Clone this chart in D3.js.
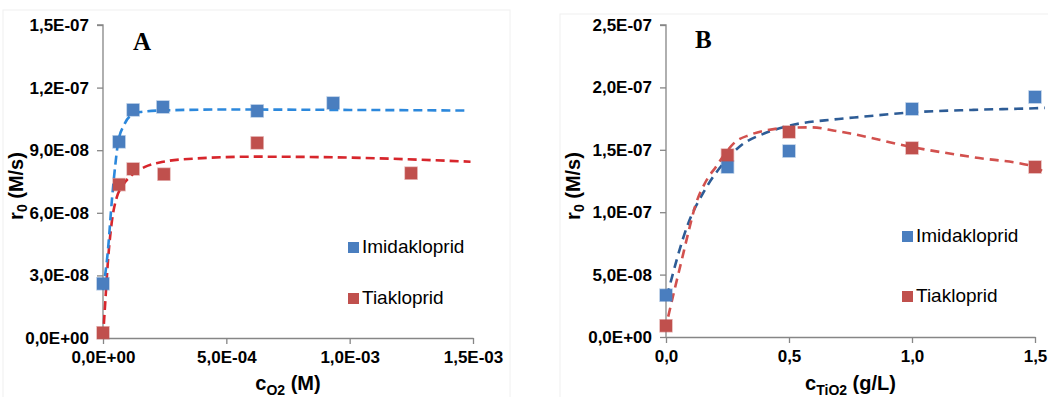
<!DOCTYPE html>
<html lang="en">
<head>
<meta charset="UTF-8">
<title>r0 vs cO2 / cTiO2</title>
<script src="https://d3js.org/d3.v7.min.js"></script>
<style>
  body { margin: 0; background: #fff; }
  svg { display: block; font-family: "Liberation Sans", Arial, sans-serif; }
  .axis-title { font-size: 20px; font-weight: bold; fill: #000; }
  .legend text { font-size: 19px; fill: #000; }
  .panel-tag { font-family: "Liberation Serif", "Times New Roman", serif; font-size: 25px; font-weight: bold; }
</style>
</head>
<body>
<script>
// ---- panel A : r0 vs c(O2) ----
const aYTicks = [0, 3e-8, 6e-8, 9e-8, 1.2e-7, 1.5e-7];
const aYLabels = ["0,0E+00", "3,0E-08", "6,0E-08", "9,0E-08", "1,2E-07", "1,5E-07"];
const aXTicks = [0, 5e-4, 1e-3, 1.5e-3];
const aXLabels = ["0,0E+00", "5,0E-04", "1,0E-03", "1,5E-03"];

const aImiX = [0, 6.5e-5, 1.22e-4, 2.43e-4, 6.25e-4, 9.33e-4];
const aImiY = [2.6e-8, 9.4e-8, 1.093e-7, 1.107e-7, 1.088e-7, 1.126e-7];
const aTiaX = [0, 6.5e-5, 1.22e-4, 2.47e-4, 6.25e-4, 1.249e-3];
const aTiaY = [2.5e-9, 7.35e-8, 8.1e-8, 7.85e-8, 9.35e-8, 7.9e-8];

// fitted curves
const aImiFitX = [0, 2.0e-5, 3.6e-5, 4.9e-5, 6.1e-5, 8.5e-5, 1.1e-4, 1.5e-4, 2.3e-4, 5e-4, 1e-3, 1.48e-3];
const aImiFitY = [2.3e-8, 4.2e-8, 6.6e-8, 8.2e-8, 9.35e-8, 1.02e-7, 1.064e-7, 1.083e-7, 1.09e-7, 1.095e-7, 1.093e-7, 1.09e-7];
const aTiaFitX = [0, 8e-6, 2.15e-5, 3.5e-5, 5.6e-5, 7.6e-5, 1.16e-4, 1.7e-4, 2.38e-4, 3.73e-4, 6.25e-4, 9.33e-4, 1.49e-3];
const aTiaFitY = [0, 1.5e-8, 3.9e-8, 5.5e-8, 6.75e-8, 7.24e-8, 7.8e-8, 8.2e-8, 8.43e-8, 8.6e-8, 8.69e-8, 8.66e-8, 8.45e-8];

// ---- panel B : r0 vs c(TiO2) ----
const bYTicks = [0, 5e-8, 1e-7, 1.5e-7, 2e-7, 2.5e-7];
const bYLabels = ["0,0E+00", "5,0E-08", "1,0E-07", "1,5E-07", "2,0E-07", "2,5E-07"];
const bXTicks = [0, 0.5, 1.0, 1.5];
const bXLabels = ["0,0", "0,5", "1,0", "1,5"];

const bImiX = [0, 0.25, 0.5, 1.0, 1.5];
const bImiY = [3.35e-8, 1.362e-7, 1.49e-7, 1.827e-7, 1.923e-7];
const bTiaX = [0, 0.25, 0.5, 1.0, 1.5];
const bTiaY = [9e-9, 1.458e-7, 1.643e-7, 1.514e-7, 1.362e-7];

const bImiFitX = [0.003, 0.09, 0.158, 0.239, 0.307, 0.401, 0.496, 0.685, 0.8, 1.0, 1.25, 1.5, 1.54];
const bImiFitY = [3.2e-8, 9.08e-8, 1.178e-7, 1.405e-7, 1.538e-7, 1.632e-7, 1.691e-7, 1.744e-7, 1.765e-7, 1.8e-7, 1.82e-7, 1.833e-7, 1.836e-7];
const bTiaFitX = [0.009, 0.036, 0.064, 0.09, 0.12, 0.158, 0.205, 0.246, 0.28, 0.34, 0.408, 0.496, 0.59, 0.685, 0.75, 1.0, 1.25, 1.5, 1.54];
const bTiaFitY = [1.63e-8, 3.9e-8, 6.17e-8, 8.31e-8, 1.058e-7, 1.232e-7, 1.37e-7, 1.485e-7, 1.56e-7, 1.619e-7, 1.656e-7, 1.677e-7, 1.68e-7, 1.653e-7, 1.63e-7, 1.522e-7, 1.44e-7, 1.362e-7, 1.315e-7];

const seriesNames = ["Imidakloprid", "Tiakloprid"];

const W = 1048, H = 397;
const svg = d3.select("body").append("svg")
    .attr("width", W)
    .attr("height", H);

const BLUE = "#4a7ebf", RED = "#c0504d";

function zip(xs, ys) { return xs.map((x, i) => [x, ys[i]]); }

function panel(opt) {
    const g = svg.append("g");
    const x = d3.scaleLinear().domain(opt.xDomain).range(opt.xRange);
    const y = d3.scaleLinear().domain(opt.yDomain).range(opt.yRange);

    // faint chart-area frame
    g.append("rect")
        .attr("x", opt.frame[0]).attr("y", opt.frame[1])
        .attr("width", opt.frame[2]).attr("height", opt.frame[3])
        .attr("fill", "none").attr("stroke", "#f0f0f0");

    // axes
    const yAxis = g.append("g")
        .attr("transform", `translate(${opt.xRange[0]},0)`)
        .call(d3.axisLeft(y).tickValues(opt.yTicks).tickSize(6)
            .tickFormat((d, i) => opt.yLabels[i]));
    const xAxis = g.append("g")
        .attr("transform", `translate(0,${opt.yRange[0]})`)
        .call(d3.axisBottom(x).tickValues(opt.xTicks).tickSize(6).tickSizeOuter(0)
            .tickFormat((d, i) => opt.xLabels[i]));
    [yAxis, xAxis].forEach(a => {
        a.attr("font-family", null).attr("font-size", null);
        a.select(".domain").attr("stroke", "#868686").attr("stroke-width", 1.3);
        a.selectAll(".tick line").attr("stroke", "#868686").attr("stroke-width", 1.3);
        a.selectAll(".tick text")
            .style("font", "bold 17px 'Liberation Sans', Arial, sans-serif")
            .attr("fill", "#000");
    });
    yAxis.select(".domain").attr("d", `M-6,${opt.yRange[1]}H0V${opt.yRange[0]}`);
    yAxis.selectAll(".tick text").attr("x", -14);
    xAxis.selectAll(".tick text").attr("y", 13);

    // fitted dashed curves
    const line = d3.line().x(d => x(d[0])).y(d => y(d[1])).curve(d3.curveMonotoneX);
    opt.fits.forEach(f => {
        g.append("path")
            .attr("d", line(f.pts))
            .attr("fill", "none")
            .attr("stroke", f.color)
            .attr("stroke-width", 2.6)
            .attr("stroke-dasharray", f.dash);
    });

    // markers
    const S = 12;
    opt.points.forEach(p => {
        g.selectAll(null).data(p.pts).enter().append("rect")
            .attr("x", d => x(d[0]) - S / 2)
            .attr("y", d => y(d[1]) - S / 2)
            .attr("width", S).attr("height", S)
            .attr("fill", p.color)
            .attr("stroke", p.color).attr("stroke-opacity", 0.45).attr("stroke-width", 1.5);
    });

    // axis titles
    const xt = g.append("text").attr("class", "axis-title")
        .attr("x", (opt.xRange[0] + opt.xRange[1]) / 2)
        .attr("y", 390)
        .attr("text-anchor", "middle");
    xt.append("tspan").text("c");
    xt.append("tspan").attr("font-size", 14).attr("dy", 5).text(opt.xSub);
    xt.append("tspan").attr("dy", -5).text(" " + opt.xUnit);

    const yt = g.append("text").attr("class", "axis-title")
        .attr("transform", `translate(${opt.yTitleX},186) rotate(-90)`)
        .attr("text-anchor", "middle");
    yt.append("tspan").text("r");
    yt.append("tspan").attr("font-size", 14).attr("dy", 4).text("0");
    yt.append("tspan").attr("dy", -4).text(" (M/s)");

    // panel letter
    g.append("text").attr("class", "panel-tag")
        .attr("x", opt.tag[1]).attr("y", opt.tag[2]).text(opt.tag[0]);

    // legend
    const lg = g.append("g").attr("class", "legend");
    seriesNames.forEach((name, i) => {
        const ly = opt.legendY[i];
        lg.append("rect")
            .attr("x", opt.legendX).attr("y", ly - 11)
            .attr("width", 11).attr("height", 11)
            .attr("fill", i === 0 ? BLUE : RED);
        lg.append("text")
            .attr("x", opt.legendX + 14).attr("y", ly)
            .text(name);
    });
}

panel({
    xDomain: [0, 1.5e-3], xRange: [103, 473],
    yDomain: [0, 1.5e-7], yRange: [338, 25],
    yTicks: aYTicks, yLabels: aYLabels, xTicks: aXTicks, xLabels: aXLabels,
    frame: [3, 10, 507, 400],
    fits: [
        { pts: zip(aTiaFitX, aTiaFitY), color: "#d7262c", dash: "9,5" },
        { pts: zip(aImiFitX, aImiFitY), color: "#2c88dc", dash: "9,5" }
    ],
    points: [
        { pts: zip(aImiX, aImiY), color: BLUE },
        { pts: zip(aTiaX, aTiaY), color: RED }
    ],
    xSub: "O2", xUnit: "(M)",
    yTitleX: 23,
    tag: ["A", 133, 50],
    legendX: 348, legendY: [253, 304]
});

panel({
    xDomain: [0, 1.5], xRange: [666, 1035],
    yDomain: [0, 2.5e-7], yRange: [337, 25],
    yTicks: bYTicks, yLabels: bYLabels, xTicks: bXTicks, xLabels: bXLabels,
    frame: [560, 14, 500, 400],
    fits: [
        { pts: zip(bImiFitX, bImiFitY), color: "#2d5c96", dash: "9,6" },
        { pts: zip(bTiaFitX, bTiaFitY), color: "#d2514e", dash: "9,6" }
    ],
    points: [
        { pts: zip(bImiX, bImiY), color: BLUE },
        { pts: zip(bTiaX, bTiaY), color: RED }
    ],
    xSub: "TiO2", xUnit: "(g/L)",
    yTitleX: 580,
    tag: ["B", 695, 48],
    legendX: 902, legendY: [242, 302]
});
</script>
</body>
</html>
